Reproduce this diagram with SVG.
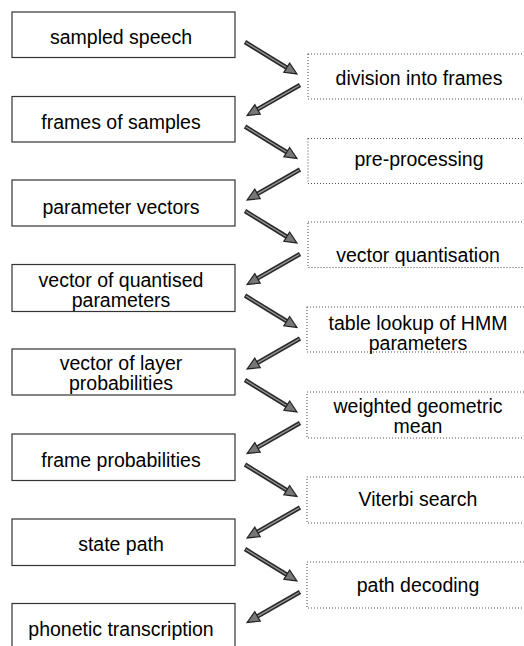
<svg xmlns="http://www.w3.org/2000/svg" xmlns:xlink="http://www.w3.org/1999/xlink" width="524" height="646" viewBox="0 0 524 646">
<style>
.bg{fill:#ffffff}
.lb{fill:#ffffff;stroke:#333333;stroke-width:1.2}
.rb{fill:#ffffff;stroke:#555555;stroke-width:1.1;stroke-dasharray:1 2}
text{font-family:"Liberation Sans",Arial,Helvetica,sans-serif;font-size:19.5px;fill:#000000;text-anchor:middle}
.so{stroke:#2a2a2a;stroke-width:4.5;stroke-linecap:butt}
.si{stroke:#9a9a9a;stroke-width:1.4}
.hd{fill:#777777;stroke:#222222;stroke-width:1.2;stroke-linejoin:miter}
</style>
<defs>
<g id="arr">
<line class="so" x1="0" y1="0" x2="52" y2="0"/>
<line class="si" x1="1" y1="0" x2="51" y2="0"/>
<polygon class="hd" points="49,-5.5 61,0 49,5.5"/>
</g>
</defs>
<rect class="bg" x="0" y="0" width="524" height="646"/>

<g id="n1"><rect class="lb" x="12" y="12" width="223" height="45.5"/><text x="121" y="44">sampled speech</text></g>
<g id="n2"><rect class="lb" x="12" y="96.5" width="223" height="45.5"/><text x="121" y="129">frames of samples</text></g>
<g id="n3"><rect class="lb" x="12" y="180" width="223" height="46"/><text x="121" y="214">parameter vectors</text></g>
<g id="n4"><rect class="lb" x="12" y="264.5" width="223" height="47"/><text x="121" y="287">vector of quantised</text><text x="121" y="307">parameters</text></g>
<g id="n5"><rect class="lb" x="12" y="349" width="223" height="46"/><text x="121" y="370">vector of layer</text><text x="121" y="390">probabilities</text></g>
<g id="n6"><rect class="lb" x="12" y="434" width="223" height="46.5"/><text x="121" y="467">frame probabilities</text></g>
<g id="n7"><rect class="lb" x="12" y="519" width="223" height="46.5"/><text x="121" y="551">state path</text></g>
<g id="n8"><rect class="lb" x="12" y="603.5" width="223" height="60"/><text x="121" y="636">phonetic transcription</text></g>

<g id="p1"><rect class="rb" x="308" y="54" width="230" height="45"/><text x="419" y="85">division into frames</text></g>
<g id="p2"><rect class="rb" x="308" y="138.5" width="230" height="45"/><text x="419" y="166">pre-processing</text></g>
<g id="p3"><rect class="rb" x="308" y="222" width="230" height="45.5"/><text x="418" y="262">vector quantisation</text></g>
<g id="p4"><rect class="rb" x="307" y="307" width="230" height="45"/><text x="418" y="330">table lookup of HMM</text><text x="418" y="350">parameters</text></g>
<g id="p5"><rect class="rb" x="307" y="392" width="230" height="46"/><text x="418" y="413">weighted geometric</text><text x="418" y="433">mean</text></g>
<g id="p6"><rect class="rb" x="307" y="477" width="230" height="46"/><text x="418" y="506">Viterbi search</text></g>
<g id="p7"><rect class="rb" x="307" y="562" width="230" height="46"/><text x="418" y="592">path decoding</text></g>

<g id="connectors">
<use xlink:href="#arr" transform="translate(245,42) rotate(31.6)"/>
<use xlink:href="#arr" transform="translate(300,85) rotate(150.1)"/>
<use xlink:href="#arr" transform="translate(245,126.5) rotate(31.6)"/>
<use xlink:href="#arr" transform="translate(300,169.5) rotate(150.1)"/>
<use xlink:href="#arr" transform="translate(245,211) rotate(31.6)"/>
<use xlink:href="#arr" transform="translate(300,254) rotate(150.1)"/>
<use xlink:href="#arr" transform="translate(245,295.5) rotate(31.6)"/>
<use xlink:href="#arr" transform="translate(300,338.5) rotate(150.1)"/>
<use xlink:href="#arr" transform="translate(245,380) rotate(31.6)"/>
<use xlink:href="#arr" transform="translate(300,423) rotate(150.1)"/>
<use xlink:href="#arr" transform="translate(245,464.5) rotate(31.6)"/>
<use xlink:href="#arr" transform="translate(300,507.5) rotate(150.1)"/>
<use xlink:href="#arr" transform="translate(245,549) rotate(31.6)"/>
<use xlink:href="#arr" transform="translate(300,592) rotate(150.1)"/>
</g>
</svg>
